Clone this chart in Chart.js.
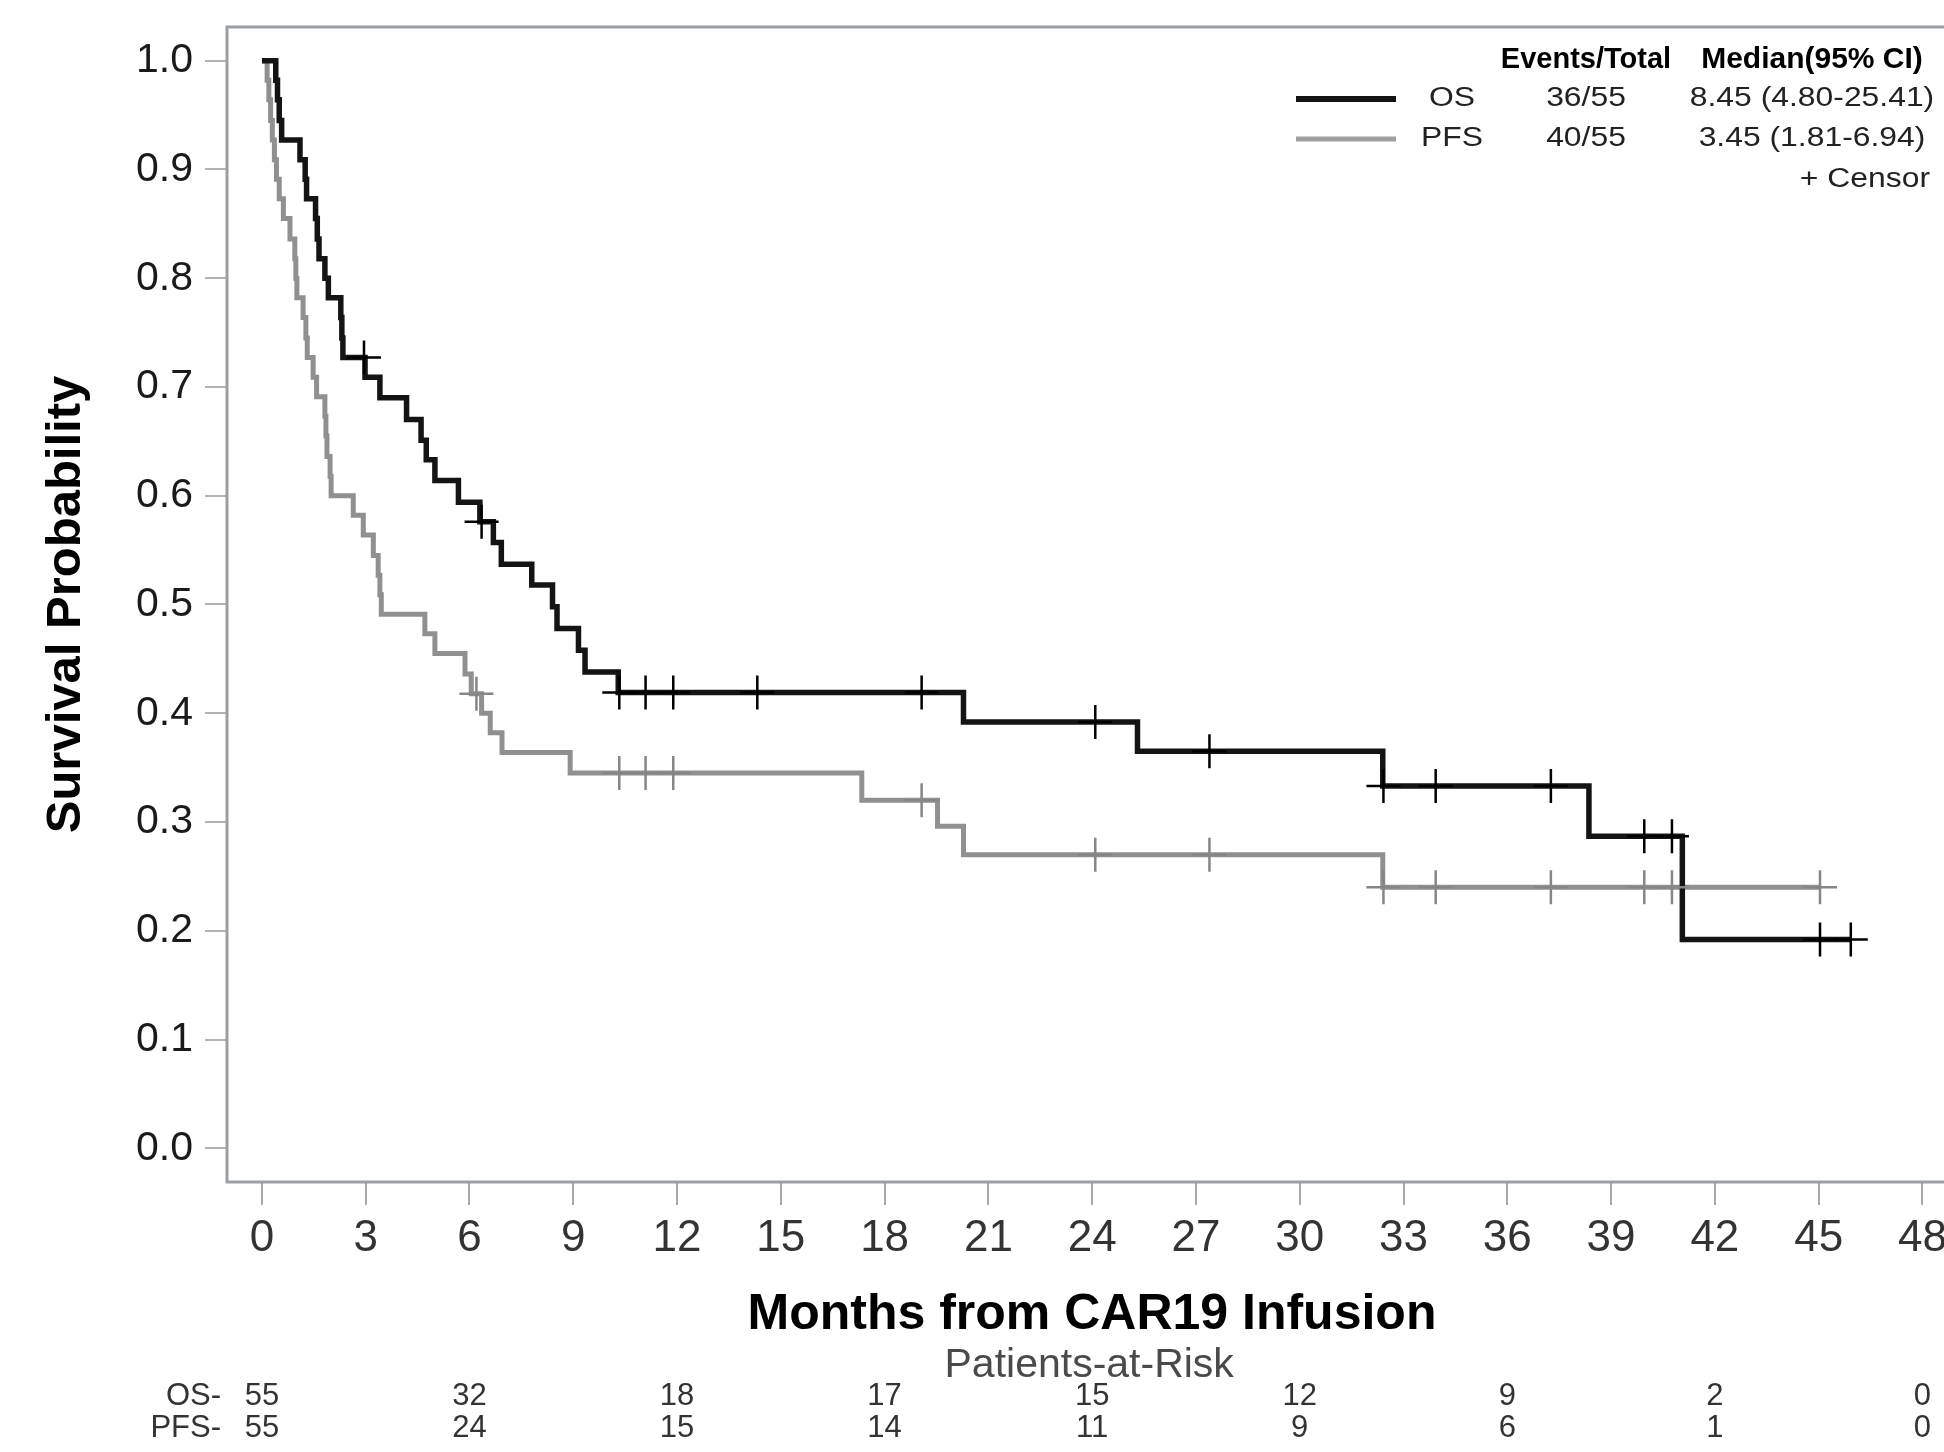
<!DOCTYPE html>
<html>
<head>
<meta charset="utf-8">
<title>OS and PFS after CAR19 infusion</title>
<script src="https://cdn.jsdelivr.net/npm/chart.js@4.4.1/dist/chart.umd.min.js"></script>
<style>
  html, body { margin: 0; padding: 0; background: #fff; overflow: hidden; }
  canvas { display: block; }
</style>
</head>
<body>
<canvas id="km" width="2000" height="1452"></canvas>
<script>
// Kaplan-Meier steps: month of the drop, survival after it
const osTimes = [0, 0.40, 0.45, 0.50, 0.57, 1.10, 1.25, 1.29, 1.55, 1.60, 1.65, 1.82, 1.92, 2.28, 2.31, 2.34,
  2.98, 3.41, 4.18, 4.60, 4.75, 5.00, 5.68, 6.30, 6.69, 6.92, 7.80, 8.40, 8.53, 9.15, 9.34, 10.30,
  20.28, 25.31, 32.40, 38.36, 41.06, 45.93];
const osSurv = [1, 0.982, 0.964, 0.945, 0.927, 0.909, 0.891, 0.873, 0.855, 0.836, 0.818, 0.800, 0.782, 0.764, 0.745, 0.727,
  0.709, 0.690, 0.670, 0.651, 0.633, 0.614, 0.594, 0.576, 0.557, 0.537, 0.518, 0.498, 0.478, 0.458, 0.438, 0.419,
  0.392, 0.365, 0.333, 0.287, 0.192, 0.192];
const osCensor = [2.95, 6.35, 10.33, 11.09, 11.89, 14.32, 19.07, 24.09, 27.39, 32.42, 33.93, 37.26, 39.96, 40.76, 45.04, 45.93];

const pfsTimes = [0, 0.15, 0.20, 0.25, 0.30, 0.36, 0.42, 0.50, 0.62, 0.81, 0.95, 0.98, 1.01, 1.19, 1.27, 1.31,
  1.48, 1.58, 1.82, 1.85, 1.88, 1.97, 2.00, 2.64, 2.93, 3.22, 3.36, 3.41, 3.45, 4.71, 5.00, 5.87, 6.05,
  6.35, 6.60, 6.94, 8.91, 17.34, 19.53, 20.28, 32.40, 45.04];
const pfsSurv = [1, 0.982, 0.964, 0.945, 0.927, 0.909, 0.891, 0.873, 0.855, 0.836, 0.818, 0.800, 0.782, 0.764, 0.745, 0.727,
  0.709, 0.691, 0.673, 0.655, 0.636, 0.618, 0.600, 0.582, 0.564, 0.545, 0.527, 0.509, 0.491, 0.473, 0.455, 0.436, 0.418,
  0.400, 0.382, 0.364, 0.345, 0.320, 0.296, 0.270, 0.240, 0.240];
const pfsCensor = [6.20, 10.33, 11.09, 11.89, 19.07, 24.09, 27.39, 32.42, 33.93, 37.26, 39.96, 40.76, 45.04];

// patients at risk
const riskTimes = [0, 6, 12, 18, 24, 30, 36, 42, 48];
const osRisk = [55, 32, 18, 17, 15, 12, 9, 2, 0];
const pfsRisk = [55, 24, 15, 14, 11, 9, 6, 1, 0];

// axis ticks
const xTicks = [0, 3, 6, 9, 12, 15, 18, 21, 24, 27, 30, 33, 36, 39, 42, 45, 48];
const yTicks = [0, 0.1, 0.2, 0.3, 0.4, 0.5, 0.6, 0.7, 0.8, 0.9, 1.0];

// legend table
const legendNames = ['OS', 'PFS'];
const legendEvents = ['36/55', '40/55'];
const legendMedians = ['8.45 (4.80-25.41)', '3.45 (1.81-6.94)'];

const FONT = "'Liberation Sans', Arial, sans-serif";
const OS_COLOR = '#141414';
const PFS_COLOR = '#909090';

const toPoints = (times, surv) => times.map((t, i) => ({ x: t, y: surv[i] }));
// a censor mark sits on the curve: take the step level at that time
const survAt = (times, surv, t) => {
  let s = surv[0];
  times.forEach((tt, i) => { if (tt <= t) s = surv[i]; });
  return s;
};
const censorPoints = (cens, times, surv) => cens.map(t => ({ x: t, y: survAt(times, surv, t) }));

function txt(ctx, s, x, y, font, color, align, sx) {
  ctx.save();
  ctx.translate(x, y);
  ctx.scale(sx || 1, 1);
  ctx.font = font;
  ctx.fillStyle = color;
  ctx.textAlign = align;
  ctx.textBaseline = 'middle';
  ctx.fillText(s, 0, 0);
  ctx.restore();
}

// frame, legend block and the at-risk table
const extras = {
  id: 'extras',
  afterDraw(chart) {
    const { ctx, chartArea: a, scales: { x } } = chart;
    ctx.save();
    ctx.strokeStyle = '#9b9ea2';
    ctx.lineWidth = 3;
    ctx.strokeRect(a.left, a.top, a.right - a.left, a.bottom - a.top);

    // legend
    txt(ctx, 'Events/Total', 1586, 60, `bold 29px ${FONT}`, '#000', 'center');
    txt(ctx, 'Median(95% CI)', 1812, 60, `bold 30px ${FONT}`, '#000', 'center');
    const rowY = [99, 139];
    const colors = [OS_COLOR, '#a0a0a0'];
    const widths = [6, 5];
    legendNames.forEach((name, i) => {
      ctx.strokeStyle = colors[i];
      ctx.lineWidth = widths[i];
      ctx.beginPath();
      ctx.moveTo(1296, rowY[i]);
      ctx.lineTo(1396, rowY[i]);
      ctx.stroke();
      txt(ctx, name, 1452, rowY[i], `27px ${FONT}`, '#222', 'center', 1.18);
      txt(ctx, legendEvents[i], 1586, rowY[i], `27px ${FONT}`, '#222', 'center', 1.18);
      txt(ctx, legendMedians[i], 1812, rowY[i], `27px ${FONT}`, '#222', 'center', 1.18);
    });
    txt(ctx, '+ Censor', 1930, 180, `27px ${FONT}`, '#222', 'right', 1.18);

    // patients at risk
    txt(ctx, 'Patients-at-Risk', x.getPixelForValue(24) - 3, 1366, `41px ${FONT}`, '#4a4a4a', 'center');
    txt(ctx, 'OS-', 221, 1396, `31px ${FONT}`, '#333', 'right');
    txt(ctx, 'PFS-', 221, 1428, `31px ${FONT}`, '#333', 'right');
    riskTimes.forEach((t, i) => {
      const px = x.getPixelForValue(t);
      txt(ctx, String(osRisk[i]), px, 1396, `31px ${FONT}`, '#333', 'center');
      txt(ctx, String(pfsRisk[i]), px, 1428, `31px ${FONT}`, '#333', 'center');
    });
    ctx.restore();
  }
};

const ctx = document.getElementById('km').getContext('2d');
const chart = new Chart(ctx, {
  type: 'line',
  data: {
    datasets: [
      {
        label: 'OS censor',
        data: censorPoints(osCensor, osTimes, osSurv),
        showLine: false,
        pointStyle: 'cross',
        pointRadius: 17,
        pointBorderWidth: 2.5,
        pointBorderColor: '#000',
        borderColor: '#000'
      },
      {
        label: 'PFS censor',
        data: censorPoints(pfsCensor, pfsTimes, pfsSurv),
        showLine: false,
        pointStyle: 'cross',
        pointRadius: 17,
        pointBorderWidth: 2.5,
        pointBorderColor: '#868686',
        borderColor: '#868686'
      },
      {
        label: 'OS',
        data: toPoints(osTimes, osSurv),
        stepped: 'before',
        borderColor: OS_COLOR,
        borderWidth: 5.5,
        pointRadius: 0,
        fill: false
      },
      {
        label: 'PFS',
        data: toPoints(pfsTimes, pfsSurv),
        stepped: 'before',
        borderColor: PFS_COLOR,
        borderWidth: 5,
        pointRadius: 0,
        fill: false
      }
    ]
  },
  options: {
    responsive: false,
    animation: false,
    events: [],
    layout: { padding: { top: 27, right: 43, bottom: 0, left: 0 } },
    plugins: {
      legend: { display: false },
      tooltip: { enabled: false }
    },
    scales: {
      x: {
        type: 'linear',
        min: -1.01,
        max: 49,
        afterBuildTicks: (s) => { s.ticks = xTicks.map(v => ({ value: v })); },
        afterFit: (s) => {
          s.height = 270;
          s.paddingLeft = 0; s.paddingRight = 0; s.paddingTop = 0; s.paddingBottom = 0;
        },
        grid: { drawOnChartArea: false, tickLength: 23, color: '#a6a9ad', lineWidth: 2 },
        border: { display: false },
        ticks: {
          padding: 7,
          autoSkip: false,
          maxRotation: 0,
          color: '#333',
          font: { family: FONT, size: 44 },
          callback: (v) => String(v)
        },
        title: {
          display: true,
          text: 'Months from CAR19 Infusion',
          color: '#000',
          font: { family: FONT, size: 50, weight: 'bold' },
          padding: { top: 0, bottom: 107 }
        }
      },
      y: {
        min: -0.031,
        max: 1.031,
        afterBuildTicks: (s) => { s.ticks = yTicks.map(v => ({ value: v })); },
        afterFit: (s) => {
          s.width = 227;
          s.paddingLeft = 0; s.paddingRight = 0; s.paddingTop = 0; s.paddingBottom = 0;
        },
        grid: { drawOnChartArea: false, tickLength: 22, color: '#b0b3b6', lineWidth: 2 },
        border: { display: false },
        ticks: {
          padding: 12,
          color: '#1a1a1a',
          font: { family: FONT, size: 41 },
          callback: (v) => v.toFixed(1)
        },
        title: {
          display: true,
          text: 'Survival Probability',
          color: '#000',
          font: { family: FONT, size: 49, weight: 'bold' },
          padding: { top: 37, bottom: 0 }
        }
      }
    }
  },
  plugins: [extras]
});

// the plot frame runs off the right edge of the page; pin its right side
const wantRight = 1957;
for (let k = 0; k < 3; k++) {
  const diff = chart.chartArea.right - wantRight;
  if (Math.abs(diff) < 0.5) break;
  chart.options.layout.padding.right += diff;
  chart.update();
}
</script>
</body>
</html>
